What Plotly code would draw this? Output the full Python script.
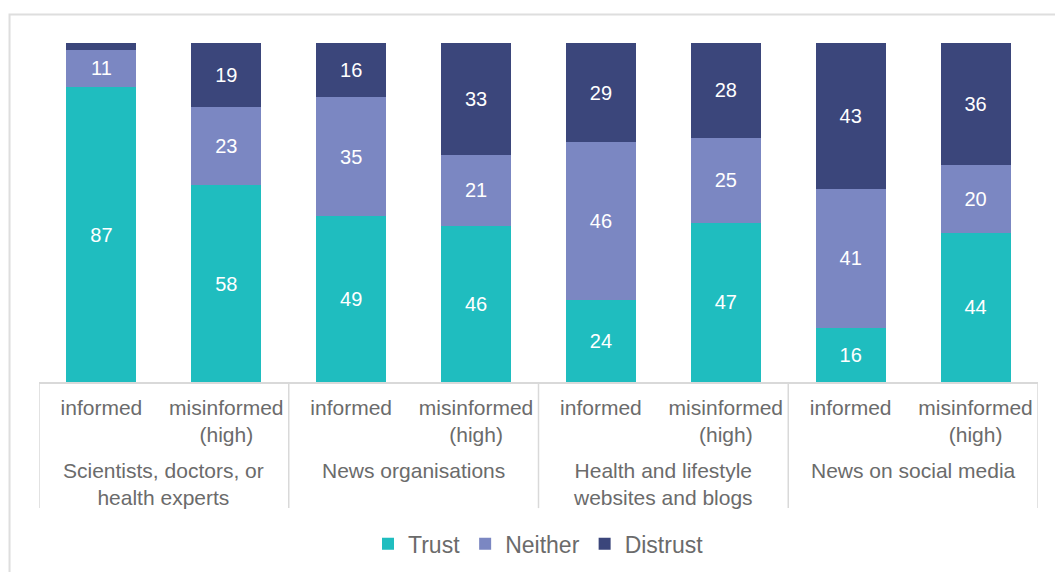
import plotly.graph_objects as go

# Sources of information and respondent groups
sources = [
    "Scientists, doctors, or<br>health experts",
    "News organisations",
    "Health and lifestyle<br>websites and blogs",
    "News on social media",
]
groups = ["informed", "misinformed<br>(high)"]

# Share (%) of each group by level of trust, bar order: source x group
trust = [87, 58, 49, 46, 24, 47, 16, 44]
neither = [11, 23, 35, 21, 46, 25, 41, 20]
distrust = [2, 19, 16, 33, 29, 28, 43, 36]

series = [
    ("Trust", trust, "#1fbdbf"),
    ("Neither", neither, "#7b87c2"),
    ("Distrust", distrust, "#3b467b"),
]

positions = list(range(len(trust)))
tick_text = [g for _ in sources for g in groups]

FONT = "Liberation Sans, Arial, sans-serif"
GREY_TEXT = "#6b6b6b"
GREY_LINE = "#d9d9d9"

fig = go.Figure()
for name, vals, color in series:
    fig.add_trace(go.Bar(
        x=positions,
        y=vals,
        name=name,
        marker=dict(color=color, line=dict(width=0)),
        width=0.56,
        text=[str(v) if v >= 5 else "" for v in vals],
        textposition="inside",
        insidetextanchor="middle",
        textangle=0,
        constraintext="none",
        textfont=dict(color="white", size=20, family=FONT),
        hoverinfo="skip",
    ))

shapes = []
# Group dividers below the axis
for b in [-0.5, 1.5, 3.5, 5.5, 7.5]:
    shapes.append(dict(type="line", xref="x", yref="paper",
                       x0=b, x1=b, y0=0, y1=-0.372,
                       line=dict(color=GREY_LINE, width=1.5)))
# Outer chart frame
shapes.append(dict(type="rect", xref="paper", yref="paper",
                   x0=-0.0295, x1=1.03, y0=1.084, y1=-0.6,
                   line=dict(color="#dedede", width=2), layer="below"))

annotations = []
for i, s in enumerate(sources):
    annotations.append(dict(
        x=2 * i + 0.5, y=-0.222, xref="x", yref="paper",
        text=s, showarrow=False, xanchor="center", yanchor="top",
        align="center", font=dict(size=21, color=GREY_TEXT, family=FONT),
    ))

fig.update_layout(
    barmode="stack",
    barnorm="percent",
    width=1055,
    height=572,
    margin=dict(l=39, r=17, t=43, b=190, autoexpand=False),
    paper_bgcolor="white",
    plot_bgcolor="white",
    font=dict(family=FONT, color=GREY_TEXT, size=21),
    xaxis=dict(
        range=[-0.5, 7.5],
        tickmode="array",
        tickvals=positions,
        ticktext=tick_text,
        showline=True,
        linecolor=GREY_LINE,
        linewidth=1.5,
        showgrid=False,
        zeroline=False,
        ticks="",
        ticklabelstandoff=6,
        automargin=False,
        tickfont=dict(size=21, color=GREY_TEXT, family=FONT),
        fixedrange=True,
    ),
    yaxis=dict(
        range=[0, 100],
        visible=False,
        showgrid=False,
        zeroline=False,
        automargin=False,
        fixedrange=True,
    ),
    legend=dict(
        orientation="h",
        traceorder="normal",
        x=0.5, xanchor="center",
        y=-0.477, yanchor="middle",
        font=dict(size=23, color=GREY_TEXT, family=FONT),
        itemclick=False,
        itemdoubleclick=False,
    ),
    shapes=shapes,
    annotations=annotations,
    showlegend=True,
)

fig.write_html("out.html")
